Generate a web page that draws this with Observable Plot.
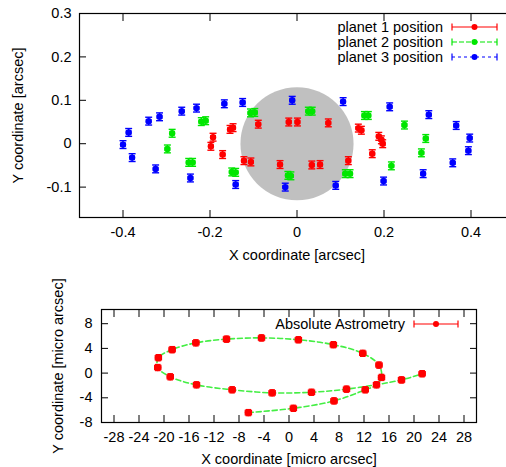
<!DOCTYPE html>
<html><head><meta charset="utf-8">
<script src="https://cdn.jsdelivr.net/npm/d3@7"></script>
<script src="https://cdn.jsdelivr.net/npm/@observablehq/plot@0.6"></script>
<style>
html,body{margin:0;padding:0;background:#fff;}
#wrap{position:relative;width:506px;height:467px;overflow:hidden;background:#fff;}
#top,#bot{position:absolute;left:0;}
#top{top:0;} #bot{top:265px;}
#wrap svg{max-width:none !important;}
</style></head><body>
<div id="wrap"><div id="top"></div><div id="bot"></div></div>
<script>
const FONT = "'Liberation Sans', Arial, Helvetica, sans-serif";

// ---- top panel data (arcsec) ----
const planet1X = [-0.193,-0.198,-0.171,-0.122,-0.106,-0.154,-0.147,-0.089,-0.019,0.001,0.072,0.141,0.148,0.188,0.194,0.197,0.173,0.118,0.053,0.034,-0.039];
const planet1Y = [0.015,-0.006,-0.025,-0.039,-0.042,0.033,0.037,0.045,0.050,0.050,0.048,0.036,0.031,0.017,0.009,0.000,-0.023,-0.039,-0.048,-0.049,-0.048];
const planet2X = [-0.287,-0.298,-0.249,-0.240,-0.220,-0.210,-0.150,-0.141,-0.107,-0.097,-0.021,-0.014,0.026,0.035,0.111,0.122,0.155,0.164,0.217,0.247,0.286,0.296];
const planet2Y = [0.024,-0.012,-0.043,-0.043,0.051,0.053,-0.065,-0.066,0.071,0.072,-0.073,-0.074,0.075,0.075,-0.069,-0.069,0.065,0.065,-0.051,0.043,-0.021,0.012];
const planet3X = [-0.400,-0.387,-0.379,-0.341,-0.325,-0.316,-0.265,-0.245,-0.231,-0.167,-0.141,-0.125,-0.027,-0.011,0.089,0.106,0.199,0.213,0.290,0.303,0.358,0.366,0.394,0.397];
const planet3Y = [-0.002,0.026,-0.032,0.052,-0.058,0.062,0.075,-0.079,0.082,0.092,-0.094,0.095,-0.100,0.100,-0.096,0.097,-0.086,0.085,-0.069,0.067,-0.044,0.042,-0.016,0.013];
const planetErrX = 0.005, planetErrY = 0.009;
const seriesNames = ["planet 1 position","planet 2 position","planet 3 position"];
const seriesColors = ["#ff0000","#00e600","#0000ff"];
const seriesDash = [null,"5,2","3,3"];
const diskX = [0], diskY = [0], diskRadius = [0.13];
const xTicksTop = [-0.4,-0.2,0,0.2,0.4];
const yTicksTop = [-0.1,0,0.1,0.2,0.3];

// ---- bottom panel data (micro arcsec) ----
const astroX = [-6.5,0.7,7.2,12.2,14.0,14.8,14.4,11.8,7.1,1.5,-4.4,-10.0,-14.9,-18.7,-20.9,-21.0,-19.0,-14.8,-9.1,-2.7,3.6,9.2,18.0,21.3];
const astroY = [-6.4,-5.7,-4.5,-2.7,-1.9,-0.7,1.3,3.2,4.6,5.4,5.7,5.5,4.9,3.8,2.5,0.9,-0.6,-1.9,-2.7,-3.2,-3.1,-2.6,-1.1,-0.1];
const astroErr = 0.5;
const xTicksBot = [-28,-24,-20,-16,-12,-8,-4,0,4,8,12,16,20,24,28];
const yTicksBot = [-8,-4,0,4,8];

const zipXY = (xs, ys) => xs.map((x, i) => ({x, y: ys[i]}));

function errMarks(data, color, ex, ey, capX, capY, r, sw) {
  const s = {stroke: color, strokeWidth: sw};
  return [
    Plot.link(data, {x1: d => d.x - ex, x2: d => d.x + ex, y1: "y", y2: "y", ...s}),
    Plot.link(data, {x1: "x", x2: "x", y1: d => d.y - ey, y2: d => d.y + ey, ...s}),
    Plot.link(data, {x1: d => d.x - capX, x2: d => d.x + capX, y1: d => d.y + ey, y2: d => d.y + ey, ...s}),
    Plot.link(data, {x1: d => d.x - capX, x2: d => d.x + capX, y1: d => d.y - ey, y2: d => d.y - ey, ...s}),
    Plot.link(data, {x1: d => d.x - ex, x2: d => d.x - ex, y1: d => d.y - capY, y2: d => d.y + capY, ...s}),
    Plot.link(data, {x1: d => d.x + ex, x2: d => d.x + ex, y1: d => d.y - capY, y2: d => d.y + capY, ...s}),
    Plot.dot(data, {x: "x", y: "y", r, fill: color, stroke: "none"})
  ];
}

const topW = 530, topML = 79, topMR = 16;
const topXDomain = [-0.5, 0.5];
const pxPerUnitTop = (topW - topML - topMR) / (topXDomain[1] - topXDomain[0]);
const disk = diskX.map((x, i) => ({x, y: diskY[i], r: diskRadius[i]}));
const planets = [zipXY(planet1X, planet1Y), zipXY(planet2X, planet2Y), zipXY(planet3X, planet3Y)];
const labelStyle = {textAnchor: "middle", lineAnchor: "middle", fill: "#000", fontSize: 14.5};

const topPlot = Plot.plot({
  width: topW, height: 265,
  marginLeft: topML, marginRight: topMR, marginTop: 13, marginBottom: 48,
  x: {domain: topXDomain},
  y: {domain: [-0.17, 0.3]},
  style: {fontFamily: FONT, fontSize: "14.5px", color: "#000", background: "white", maxWidth: "none"},
  marks: [
    Plot.dot(disk, {x: "x", y: "y", r: disk[0].r * pxPerUnitTop, fill: "#c0c0c0", stroke: "none"}),
    ...planets.flatMap((p, i) => errMarks(p, seriesColors[i], planetErrX, planetErrY, 0.008, 0.005, 3.2, 1.4)),
    Plot.frame({stroke: "#000", strokeWidth: 1.2}),
    Plot.axisX({anchor: "bottom", ticks: xTicksTop, tickSize: -7, tickPadding: 16, tickFormat: d => String(d), label: null}),
    Plot.axisX({anchor: "top", ticks: xTicksTop, tickSize: -7, tickFormat: () => "", label: null}),
    Plot.axisY({anchor: "left", ticks: yTicksTop, tickSize: -7, tickPadding: 15, tickFormat: d => String(d), label: null}),
    Plot.axisY({anchor: "right", ticks: yTicksTop, tickSize: -7, tickFormat: () => "", label: null}),
    Plot.text(["X coordinate [arcsec]"], {text: d => d, frameAnchor: "bottom", dy: 38, ...labelStyle}),
    Plot.text(["Y coordinate [arcsec]"], {text: d => d, frameAnchor: "left", dx: -61, rotate: -90, ...labelStyle})
  ]
});
document.getElementById("top").appendChild(topPlot);

function legendEntry(svg, {x0, x1, xText, y, color, dash, label}) {
  const g = d3.select(svg).append("g");
  g.append("text").attr("x", xText).attr("y", y).attr("dy", "0.36em")
    .attr("text-anchor", "end").attr("fill", "#000")
    .style("font-family", FONT).style("font-size", "14.5px").text(label);
  g.append("line").attr("x1", x0).attr("x2", x1).attr("y1", y).attr("y2", y)
    .attr("stroke", color).attr("stroke-width", 1.2).attr("stroke-dasharray", dash);
  for (const xx of [x0, x1]) {
    g.append("line").attr("x1", xx).attr("x2", xx).attr("y1", y - 3.5).attr("y2", y + 3.5)
      .attr("stroke", color).attr("stroke-width", 1.2);
  }
  g.append("circle").attr("cx", (x0 + x1) / 2).attr("cy", y).attr("r", 3).attr("fill", color);
}
const topSvg = topPlot.tagName.toLowerCase() === "svg" ? topPlot : topPlot.querySelector("svg");
seriesNames.forEach((name, i) => legendEntry(topSvg, {
  x0: 452, x1: 497, xText: 443, y: 27 + 15 * i, color: seriesColors[i], dash: seriesDash[i], label: name
}));

const astro = zipXY(astroX, astroY);
const botPlot = Plot.plot({
  width: 506, height: 202,
  marginLeft: 101, marginRight: 30, marginTop: 44, marginBottom: 45,
  x: {domain: [-30, 30]},
  y: {domain: [-8, 10.3]},
  style: {fontFamily: FONT, fontSize: "14.5px", color: "#000", background: "white", maxWidth: "none"},
  marks: [
    Plot.line(astro, {x: "x", y: "y", stroke: "#44ee44", strokeWidth: 1.6, strokeDasharray: "5,3", curve: "catmull-rom"}),
    ...errMarks(astro, "#ff0000", astroErr, astroErr, 0.45, 0.45, 3.6, 1.2),
    Plot.frame({stroke: "#000", strokeWidth: 1.2}),
    Plot.axisX({anchor: "bottom", ticks: xTicksBot, tickSize: -7, tickPadding: 16, tickFormat: d => String(d), label: null}),
    Plot.axisX({anchor: "top", ticks: xTicksBot, tickSize: -7, tickFormat: () => "", label: null}),
    Plot.axisY({anchor: "left", ticks: yTicksBot, tickSize: -7, tickPadding: 16, tickFormat: d => String(d), label: null}),
    Plot.axisY({anchor: "right", ticks: yTicksBot, tickSize: -7, tickFormat: () => "", label: null}),
    Plot.text(["X coordinate [micro arcsec]"], {text: d => d, frameAnchor: "bottom", dy: 37, ...labelStyle}),
    Plot.text(["Y coordinate [micro arcsec]"], {text: d => d, frameAnchor: "left", dx: -43, rotate: -90, ...labelStyle})
  ]
});
document.getElementById("bot").appendChild(botPlot);
const botSvg = botPlot.tagName.toLowerCase() === "svg" ? botPlot : botPlot.querySelector("svg");
legendEntry(botSvg, {x0: 414, x1: 458, xText: 405, y: 59, color: "#ff0000", dash: null, label: "Absolute Astrometry"});
</script>
</body></html>
